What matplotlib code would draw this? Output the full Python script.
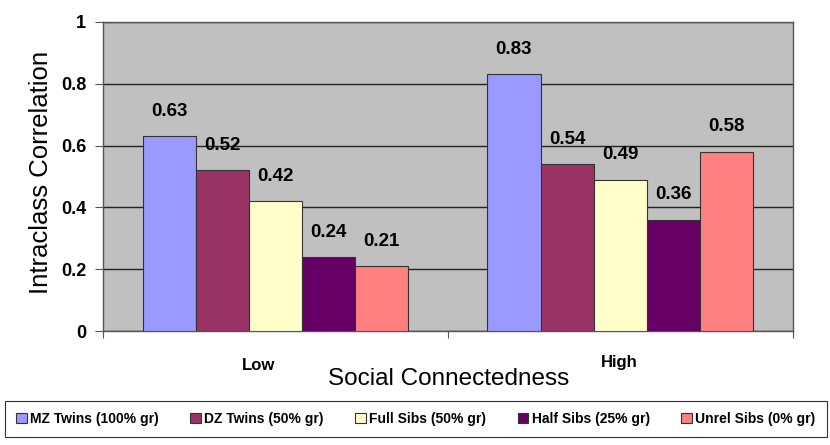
import numpy as np
import matplotlib
matplotlib.use("Agg")
import matplotlib.pyplot as plt

# data
groups = ["Low", "High"]
series = ["MZ Twins (100% gr)", "DZ Twins (50% gr)", "Full Sibs (50% gr)",
          "Half Sibs (25% gr)", "Unrel Sibs (0% gr)"]
mz = [0.63, 0.83]
dz = [0.52, 0.54]
full = [0.42, 0.49]
half = [0.24, 0.36]
unrel = [0.21, 0.58]
colors = ["#9999FF", "#993366", "#FFFFCC", "#660066", "#FF8080"]

plt.rcParams['font.family'] = ['Liberation Sans', 'DejaVu Sans']

fig = plt.figure(figsize=(8.3, 4.45), dpi=100)
ax = fig.add_axes([0.124, 0.256, 0.831, 0.695])
ax.set_facecolor("#C0C0C0")

centers = np.array([0.5, 1.5])
width = 0.154
all_vals = [mz, dz, full, half, unrel]
handles = []
for i, vals in enumerate(all_vals):
    xpos = centers + (i - 2) * width
    b = ax.bar(xpos, vals, width, color=colors[i], edgecolor="#333333",
               linewidth=0.8, label=series[i], zorder=3)
    handles.append(b)
    for x, v in zip(xpos, vals):
        ax.text(x, v + 0.08, f"{v:.2f}", ha="center", va="center",
                fontsize=13.5, fontweight="bold", zorder=4)

ax.set_xlim(0, 2)
ax.set_ylim(0, 1)
ax.set_yticks(np.arange(0, 1.01, 0.2))
ax.set_yticklabels(["0", "0.2", "0.4", "0.6", "0.8", "1"],
                   fontsize=13, fontweight="bold")
ax.yaxis.grid(True, color="#222222", linewidth=1.0, zorder=1)
ax.set_axisbelow(True)

ax.set_xticks([0, 1, 2])
ax.set_xticklabels([])
ax.tick_params(axis="x", direction="out", length=5, color="#555555")
ax.tick_params(axis="y", direction="out", length=6, color="#555555", pad=6)
for s in ax.spines.values():
    s.set_color("#555555")
    s.set_linewidth(1.0)

# group labels (offset like the original)
ax.text(0.451, -0.11, groups[0], transform=ax.get_xaxis_transform(),
        ha="center", va="center", fontsize=12, fontweight="bold")
ax.text(1.498, -0.1, groups[1], transform=ax.get_xaxis_transform(),
        ha="center", va="center", fontsize=12, fontweight="bold")

fig.text(0.541, 1 - 379 / 445, "Social Connectedness", ha="center",
         va="center", fontsize=17.5)
fig.text(41 / 830, 1 - 172 / 445, "Intraclass Correlation", ha="center",
         va="center", rotation=90, fontsize=18.5)

leg = fig.legend(handles=handles, loc="lower left", ncol=5, mode="expand",
                 bbox_to_anchor=(0.006, 0.018, 0.99, 0.072), frameon=True,
                 fancybox=False, edgecolor="black", handlelength=0.75,
                 handleheight=0.75, handletextpad=0.25, columnspacing=0.6,
                 borderpad=0.8, borderaxespad=0,
                 prop={"weight": "bold", "size": 10})
leg.get_frame().set_linewidth(0.8)

fig.savefig("out.png", dpi=100)
